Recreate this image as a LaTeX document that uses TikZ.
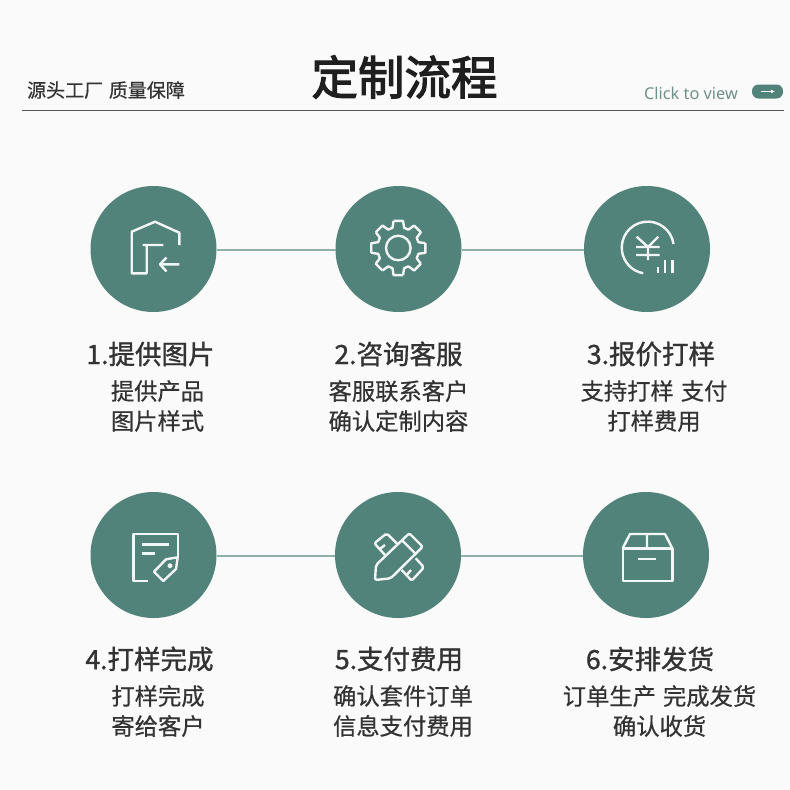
\documentclass[tikz,border=0pt]{standalone}
\usepackage{fontspec}
\setmainfont{Noto Sans CJK SC}
\newfontfamily\latinfont{Noto Sans}
\newfontfamily\headfont[FakeBold=1.2]{Noto Sans CJK SC}
\newfontfamily\bodyfont[FakeBold=0.5]{Noto Sans CJK SC}
\newfontfamily\titlefont[FakeBold=2.5]{Noto Sans CJK SC}
\usetikzlibrary{arrows.meta, positioning}
\definecolor{flowGreen}{HTML}{52837A}
\definecolor{flowLink}{HTML}{8FAFA9}
\definecolor{flowPaper}{HTML}{FAFAFA}
\definecolor{flowText}{HTML}{333333}
\definecolor{flowRule}{HTML}{555555}
\definecolor{flowClick}{HTML}{6F8F89}

\begin{document}
\begin{tikzpicture}[x=1pt, y=-1pt,
  stepdot/.style={circle, fill=flowGreen, minimum size=126pt, inner sep=0pt, outer sep=0pt},
  link/.style={draw=flowLink, line width=1.5pt},
  icon/.style={draw=white!93!flowGreen, line width=2.4pt, line join=round},
  head/.style={font=\fontsize{26.5}{26.5}\selectfont\headfont, text=flowText, inner sep=0pt},
  body/.style={font=\fontsize{23.3}{30}\selectfont\bodyfont, text=flowText, inner sep=0pt, align=center}
]
\useasboundingbox[fill=flowPaper] (0,0) rectangle (790,790);

% header
\node[font=\fontsize{19}{19}\selectfont\bodyfont, text=flowText, inner sep=0pt] (slogan) at (106,90) {源头工厂\hspace{0.3em}质量保障};
\node[font=\fontsize{46.5}{46.5}\selectfont\titlefont, text=black!88, inner sep=0pt] (title) at (404.5,77) {定制流程};
\node[font=\fontsize{16.3}{16.3}\selectfont\latinfont, text=flowClick, inner sep=0pt] (click) at (691,93) {Click to view};
\node[fill=flowGreen, rounded corners=6.5pt, minimum width=31pt, minimum height=14pt, inner sep=0pt] (pill) at (767.5,91.5) {};
\coordinate (ruleL) at (22,110.5);
\coordinate (ruleR) at (784,110.5);
\draw[flowRule, line width=1pt] (ruleL) -- (ruleR);
\draw[white, line width=.9pt, -{Latex[length=4pt, width=4pt]}] (761,91.5) -- (775,91.5);

% circles
\node[stepdot] (c1) at (153.5,249) {};
\node[stepdot, right=119pt of c1] (c2) {};
\node[stepdot, right=122.5pt of c2] (c3) {};
\node[stepdot, below=180pt of c1] (c4) {};
\node[stepdot, right=118.5pt of c4] (c5) {};
\node[stepdot, right=122pt of c5] (c6) {};
\draw[link] ([yshift=-1pt]c1.east) -- ([yshift=-1pt]c2.west);
\draw[link] ([yshift=-1pt]c2.east) -- ([yshift=-1pt]c3.west);
\draw[link] ([yshift=-1pt]c4.east) -- ([yshift=-1pt]c5.west);
\draw[link] ([yshift=-1pt]c5.east) -- ([yshift=-1pt]c6.west);

% row 1 labels
\node[head] (h1) at (150.5,354) {1.提供图片};
\node[body] (b1) at (157.5,406) {提供产品\\图片样式};
\node[head] (h2) at (398.5,354) {2.咨询客服};
\node[body] (b2) at (398.5,406) {客服联系客户\\确认定制内容};
\node[head] (h3) at (651,354) {3.报价打样};
\node[body] (b3) at (654,406) {支持打样\hspace{0.3em}支付\\打样费用};
% row 2 labels
\node[head] (h4) at (149.5,659) {4.打样完成};
\node[body] (b4) at (158,711) {打样完成\\寄给客户};
\node[head] (h5) at (399,659) {5.支付费用};
\node[body] (b5) at (403,711) {确认套件订单\\信息支付费用};
\node[head] (h6) at (650,659) {6.安排发货};
\node[body] (b6) at (659.5,711) {订单生产\hspace{0.3em}完成发货\\确认收货};

% house icon
\draw[icon] (179.3,245) -- (179.3,232.7) -- (155,221.7) -- (131.7,231.7) -- (131.7,273.3) -- (146.7,273.3) -- (146.7,245) (142.7,245) -- (163.3,245);
\draw[icon] (179.3,264.3) -- (160,264.3) (166.5,257.5) -- (160,264.3) -- (166.5,271.5);

% gear icon
\begin{scope}[shift={(398.3,248)}]
\draw[icon] (0,0) circle (12.3);
\foreach \a in {0,45,...,315}
  \draw[icon] (\a-10:27.5) -- (\a+10:27.5) -- (\a+16:21) -- (\a+29:21) -- (\a+35:27.5);
\end{scope}

% yen icon
\draw[icon] (673.5,244) arc[start angle=-8, end angle=-260, radius=26];
\draw[icon] (636.7,236.7) -- (648,247) -- (658.3,236.7) (636,247) -- (659.5,247) (636,255) -- (659.5,255) (648,247) -- (648,260);
\draw[icon] (657.7,267) -- (657.7,272.7) (665,259.5) -- (665,272.7) (672.3,259.5) -- (672.3,272.7);

% note icon
\draw[icon] (148.3,580.7) -- (133.3,580.7) -- (133.3,534) -- (177.7,534) -- (177.7,556.7);
\draw[icon] (142.3,544.3) -- (169,544.3) (142.3,553.3) -- (155,553.3);
\draw[icon] (177.7,557.3) -- (166,559.3) -- (154,571.7) -- (163.3,581) -- (176,569) -- cycle;
\draw[icon] (170,565.7) circle (1.5);

% pencil and ruler icon
\draw[icon, rounded corners=2pt] (375,580) -- (376,565) -- (409.3,533.3) -- (422.7,546.7) -- (390.7,578.3) -- cycle;
\draw[icon] (401.7,540) -- (416,554.3);
\draw[icon, rounded corners=2pt] (398.3,545) -- (386.7,533.3) -- (374.3,543.3) -- (385,555);
\draw[icon] (379.3,549.3) -- (385,545);
\draw[icon, rounded corners=2pt] (415.7,558.3) -- (424,567.3) -- (411.7,580.7) -- (401.7,570);
\draw[icon] (406.7,575) -- (411,570);

% box icon
\draw[icon] (622.7,548.3) rectangle (672.3,580.7);
\draw[icon] (622.7,548.3) -- (630,534) -- (665,534) -- (672.3,548.3) (647,534) -- (647,548.3);
\draw[icon] (638.3,559) -- (656,559);
\end{tikzpicture}
\end{document}
